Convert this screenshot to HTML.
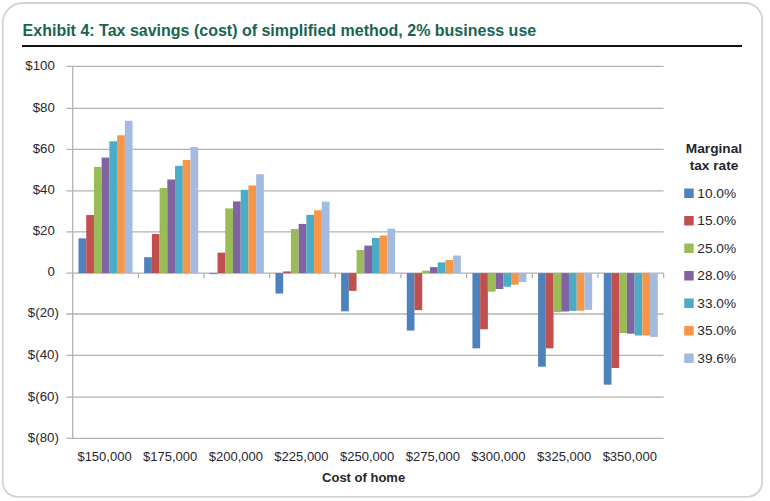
<!DOCTYPE html>
<html><head><meta charset="utf-8"><style>
html,body{margin:0;padding:0;background:#fff;width:770px;height:501px;overflow:hidden}
svg{position:absolute;left:0;top:0}
text{font-family:'Liberation Sans',sans-serif;}
</style></head><body>
<svg width="770" height="501" viewBox="0 0 770 501">
<line x1="66.3" y1="66.40" x2="663.60" y2="66.40" stroke="#B2B2B2" stroke-width="1.3"/>
<line x1="66.3" y1="108.30" x2="663.60" y2="108.30" stroke="#B2B2B2" stroke-width="1.3"/>
<line x1="66.3" y1="149.40" x2="663.60" y2="149.40" stroke="#B2B2B2" stroke-width="1.3"/>
<line x1="66.3" y1="190.90" x2="663.60" y2="190.90" stroke="#B2B2B2" stroke-width="1.3"/>
<line x1="66.3" y1="231.90" x2="663.60" y2="231.90" stroke="#B2B2B2" stroke-width="1.3"/>
<line x1="66.3" y1="273.10" x2="663.60" y2="273.10" stroke="#B2B2B2" stroke-width="1.3"/>
<line x1="66.3" y1="314.00" x2="663.60" y2="314.00" stroke="#B2B2B2" stroke-width="1.3"/>
<line x1="66.3" y1="355.30" x2="663.60" y2="355.30" stroke="#B2B2B2" stroke-width="1.3"/>
<line x1="66.3" y1="397.20" x2="663.60" y2="397.20" stroke="#B2B2B2" stroke-width="1.3"/>
<line x1="66.3" y1="438.30" x2="663.60" y2="438.30" stroke="#B2B2B2" stroke-width="1.3"/>
<line x1="72.7" y1="66.4" x2="72.7" y2="438.3" stroke="#B2B2B2" stroke-width="1.3"/>
<line x1="72.70" y1="273.10" x2="72.70" y2="278.10" stroke="#B2B2B2" stroke-width="1.3"/>
<line x1="138.36" y1="273.10" x2="138.36" y2="278.10" stroke="#B2B2B2" stroke-width="1.3"/>
<line x1="204.01" y1="273.10" x2="204.01" y2="278.10" stroke="#B2B2B2" stroke-width="1.3"/>
<line x1="269.67" y1="273.10" x2="269.67" y2="278.10" stroke="#B2B2B2" stroke-width="1.3"/>
<line x1="335.32" y1="273.10" x2="335.32" y2="278.10" stroke="#B2B2B2" stroke-width="1.3"/>
<line x1="400.98" y1="273.10" x2="400.98" y2="278.10" stroke="#B2B2B2" stroke-width="1.3"/>
<line x1="466.63" y1="273.10" x2="466.63" y2="278.10" stroke="#B2B2B2" stroke-width="1.3"/>
<line x1="532.29" y1="273.10" x2="532.29" y2="278.10" stroke="#B2B2B2" stroke-width="1.3"/>
<line x1="597.94" y1="273.10" x2="597.94" y2="278.10" stroke="#B2B2B2" stroke-width="1.3"/>
<line x1="663.60" y1="273.10" x2="663.60" y2="278.10" stroke="#B2B2B2" stroke-width="1.3"/>
<rect x="78.49" y="238.38" width="7.72" height="34.72" fill="#4F81BD"/>
<rect x="86.22" y="215.03" width="7.72" height="58.07" fill="#C0504D"/>
<rect x="93.94" y="166.88" width="7.72" height="106.22" fill="#9BBB59"/>
<rect x="101.67" y="157.58" width="7.72" height="115.52" fill="#8064A2"/>
<rect x="109.39" y="141.26" width="7.72" height="131.84" fill="#4BACC6"/>
<rect x="117.11" y="135.26" width="7.72" height="137.84" fill="#F79646"/>
<rect x="124.84" y="120.80" width="7.72" height="152.30" fill="#A4BBE0"/>
<rect x="144.15" y="257.19" width="7.72" height="15.91" fill="#4F81BD"/>
<rect x="151.87" y="234.04" width="7.72" height="39.06" fill="#C0504D"/>
<rect x="159.60" y="187.96" width="7.72" height="85.14" fill="#9BBB59"/>
<rect x="167.32" y="179.49" width="7.72" height="93.61" fill="#8064A2"/>
<rect x="175.05" y="165.85" width="7.72" height="107.25" fill="#4BACC6"/>
<rect x="182.77" y="160.06" width="7.72" height="113.04" fill="#F79646"/>
<rect x="190.49" y="147.04" width="7.72" height="126.06" fill="#A4BBE0"/>
<rect x="209.80" y="273.10" width="7.72" height="1.03" fill="#4F81BD"/>
<rect x="217.53" y="252.64" width="7.72" height="20.46" fill="#C0504D"/>
<rect x="225.25" y="208.42" width="7.72" height="64.68" fill="#9BBB59"/>
<rect x="232.98" y="201.39" width="7.72" height="71.71" fill="#8064A2"/>
<rect x="240.70" y="189.82" width="7.72" height="83.28" fill="#4BACC6"/>
<rect x="248.43" y="185.48" width="7.72" height="87.62" fill="#F79646"/>
<rect x="256.15" y="174.32" width="7.72" height="98.78" fill="#A4BBE0"/>
<rect x="275.46" y="273.10" width="7.72" height="20.46" fill="#4F81BD"/>
<rect x="283.18" y="271.45" width="7.72" height="1.65" fill="#C0504D"/>
<rect x="290.91" y="229.08" width="7.72" height="44.02" fill="#9BBB59"/>
<rect x="298.63" y="223.92" width="7.72" height="49.18" fill="#8064A2"/>
<rect x="306.36" y="214.82" width="7.72" height="58.28" fill="#4BACC6"/>
<rect x="314.08" y="210.28" width="7.72" height="62.82" fill="#F79646"/>
<rect x="321.80" y="201.60" width="7.72" height="71.50" fill="#A4BBE0"/>
<rect x="341.12" y="273.10" width="7.72" height="38.23" fill="#4F81BD"/>
<rect x="348.84" y="273.10" width="7.72" height="17.77" fill="#C0504D"/>
<rect x="356.56" y="249.96" width="7.72" height="23.14" fill="#9BBB59"/>
<rect x="364.29" y="245.62" width="7.72" height="27.48" fill="#8064A2"/>
<rect x="372.01" y="237.97" width="7.72" height="35.13" fill="#4BACC6"/>
<rect x="379.74" y="235.49" width="7.72" height="37.61" fill="#F79646"/>
<rect x="387.46" y="228.67" width="7.72" height="44.43" fill="#A4BBE0"/>
<rect x="406.77" y="273.10" width="7.72" height="57.45" fill="#4F81BD"/>
<rect x="414.50" y="273.10" width="7.72" height="36.99" fill="#C0504D"/>
<rect x="422.22" y="270.62" width="7.72" height="2.48" fill="#9BBB59"/>
<rect x="429.94" y="267.11" width="7.72" height="5.99" fill="#8064A2"/>
<rect x="437.67" y="262.35" width="7.72" height="10.75" fill="#4BACC6"/>
<rect x="445.39" y="260.08" width="7.72" height="13.02" fill="#F79646"/>
<rect x="453.12" y="255.53" width="7.72" height="17.57" fill="#A4BBE0"/>
<rect x="472.43" y="273.10" width="7.72" height="75.22" fill="#4F81BD"/>
<rect x="480.15" y="273.10" width="7.72" height="56.21" fill="#C0504D"/>
<rect x="487.87" y="273.10" width="7.72" height="18.60" fill="#9BBB59"/>
<rect x="495.60" y="273.10" width="7.72" height="15.91" fill="#8064A2"/>
<rect x="503.32" y="273.10" width="7.72" height="13.64" fill="#4BACC6"/>
<rect x="511.05" y="273.10" width="7.72" height="11.57" fill="#F79646"/>
<rect x="518.77" y="273.10" width="7.72" height="8.89" fill="#A4BBE0"/>
<rect x="538.08" y="273.10" width="7.72" height="93.61" fill="#4F81BD"/>
<rect x="545.81" y="273.10" width="7.72" height="75.22" fill="#C0504D"/>
<rect x="553.53" y="273.10" width="7.72" height="39.06" fill="#9BBB59"/>
<rect x="561.25" y="273.10" width="7.72" height="38.44" fill="#8064A2"/>
<rect x="568.98" y="273.10" width="7.72" height="37.82" fill="#4BACC6"/>
<rect x="576.70" y="273.10" width="7.72" height="37.61" fill="#F79646"/>
<rect x="584.43" y="273.10" width="7.72" height="36.78" fill="#A4BBE0"/>
<rect x="603.74" y="273.10" width="7.72" height="111.59" fill="#4F81BD"/>
<rect x="611.46" y="273.10" width="7.72" height="94.85" fill="#C0504D"/>
<rect x="619.19" y="273.10" width="7.72" height="59.93" fill="#9BBB59"/>
<rect x="626.91" y="273.10" width="7.72" height="60.55" fill="#8064A2"/>
<rect x="634.63" y="273.10" width="7.72" height="62.41" fill="#4BACC6"/>
<rect x="642.36" y="273.10" width="7.72" height="62.41" fill="#F79646"/>
<rect x="650.08" y="273.10" width="7.72" height="63.85" fill="#A4BBE0"/>
<text x="54.80" y="69.70" text-anchor="end" font-size="13.25" fill="#262630">$100</text>
<text x="54.80" y="111.60" text-anchor="end" font-size="13.25" fill="#262630">$80</text>
<text x="54.80" y="152.70" text-anchor="end" font-size="13.25" fill="#262630">$60</text>
<text x="54.80" y="194.20" text-anchor="end" font-size="13.25" fill="#262630">$40</text>
<text x="54.80" y="235.20" text-anchor="end" font-size="13.25" fill="#262630">$20</text>
<text x="54.80" y="276.40" text-anchor="end" font-size="13.25" fill="#262630">0</text>
<text x="58.80" y="317.30" text-anchor="end" font-size="13.25" fill="#262630">$(20)</text>
<text x="58.80" y="358.60" text-anchor="end" font-size="13.25" fill="#262630">$(40)</text>
<text x="58.80" y="400.50" text-anchor="end" font-size="13.25" fill="#262630">$(60)</text>
<text x="58.80" y="441.60" text-anchor="end" font-size="13.25" fill="#262630">$(80)</text>
<text x="104.53" y="460.8" text-anchor="middle" font-size="13" fill="#262630">$150,000</text>
<text x="170.18" y="460.8" text-anchor="middle" font-size="13" fill="#262630">$175,000</text>
<text x="235.84" y="460.8" text-anchor="middle" font-size="13" fill="#262630">$200,000</text>
<text x="301.49" y="460.8" text-anchor="middle" font-size="13" fill="#262630">$225,000</text>
<text x="367.15" y="460.8" text-anchor="middle" font-size="13" fill="#262630">$250,000</text>
<text x="432.81" y="460.8" text-anchor="middle" font-size="13" fill="#262630">$275,000</text>
<text x="498.46" y="460.8" text-anchor="middle" font-size="13" fill="#262630">$300,000</text>
<text x="564.12" y="460.8" text-anchor="middle" font-size="13" fill="#262630">$325,000</text>
<text x="629.77" y="460.8" text-anchor="middle" font-size="13" fill="#262630">$350,000</text>
<text x="363.6" y="481.5" text-anchor="middle" font-size="13" font-weight="bold" fill="#262630">Cost of home</text>
<text x="714" y="152.8" text-anchor="middle" font-size="13.7" font-weight="bold" fill="#262630">Marginal</text>
<text x="714" y="170.0" text-anchor="middle" font-size="13.7" font-weight="bold" fill="#262630">tax rate</text>
<rect x="684.2" y="188.50" width="9.5" height="9.5" fill="#4F81BD"/>
<text x="697.3" y="197.80" font-size="13.7" fill="#262630">10.0%</text>
<rect x="684.2" y="216.00" width="9.5" height="9.5" fill="#C0504D"/>
<text x="697.3" y="225.30" font-size="13.7" fill="#262630">15.0%</text>
<rect x="684.2" y="243.50" width="9.5" height="9.5" fill="#9BBB59"/>
<text x="697.3" y="252.80" font-size="13.7" fill="#262630">25.0%</text>
<rect x="684.2" y="271.00" width="9.5" height="9.5" fill="#8064A2"/>
<text x="697.3" y="280.30" font-size="13.7" fill="#262630">28.0%</text>
<rect x="684.2" y="298.50" width="9.5" height="9.5" fill="#4BACC6"/>
<text x="697.3" y="307.80" font-size="13.7" fill="#262630">33.0%</text>
<rect x="684.2" y="326.00" width="9.5" height="9.5" fill="#F79646"/>
<text x="697.3" y="335.30" font-size="13.7" fill="#262630">35.0%</text>
<rect x="684.2" y="353.50" width="9.5" height="9.5" fill="#A4BBE0"/>
<text x="697.3" y="362.80" font-size="13.7" fill="#262630">39.6%</text>
<path d="M22.7,3.0 H745.1 A17,17 0 0 1 762.1,20.0 V481.9 A15,15 0 0 1 747.1,496.9 H17.7 A15,15 0 0 1 2.7,481.9 V23.0 A20,20 0 0 1 22.7,3.0 Z" fill="none" stroke="#D4D4CD" stroke-width="1.8"/>
<text x="22.6" y="35.6" font-size="16" font-weight="bold" fill="#176550">Exhibit 4: Tax savings (cost) of simplified method, 2% business use</text>
<rect x="22" y="45" width="720" height="2" fill="#111"/>
</svg>
</body></html>
